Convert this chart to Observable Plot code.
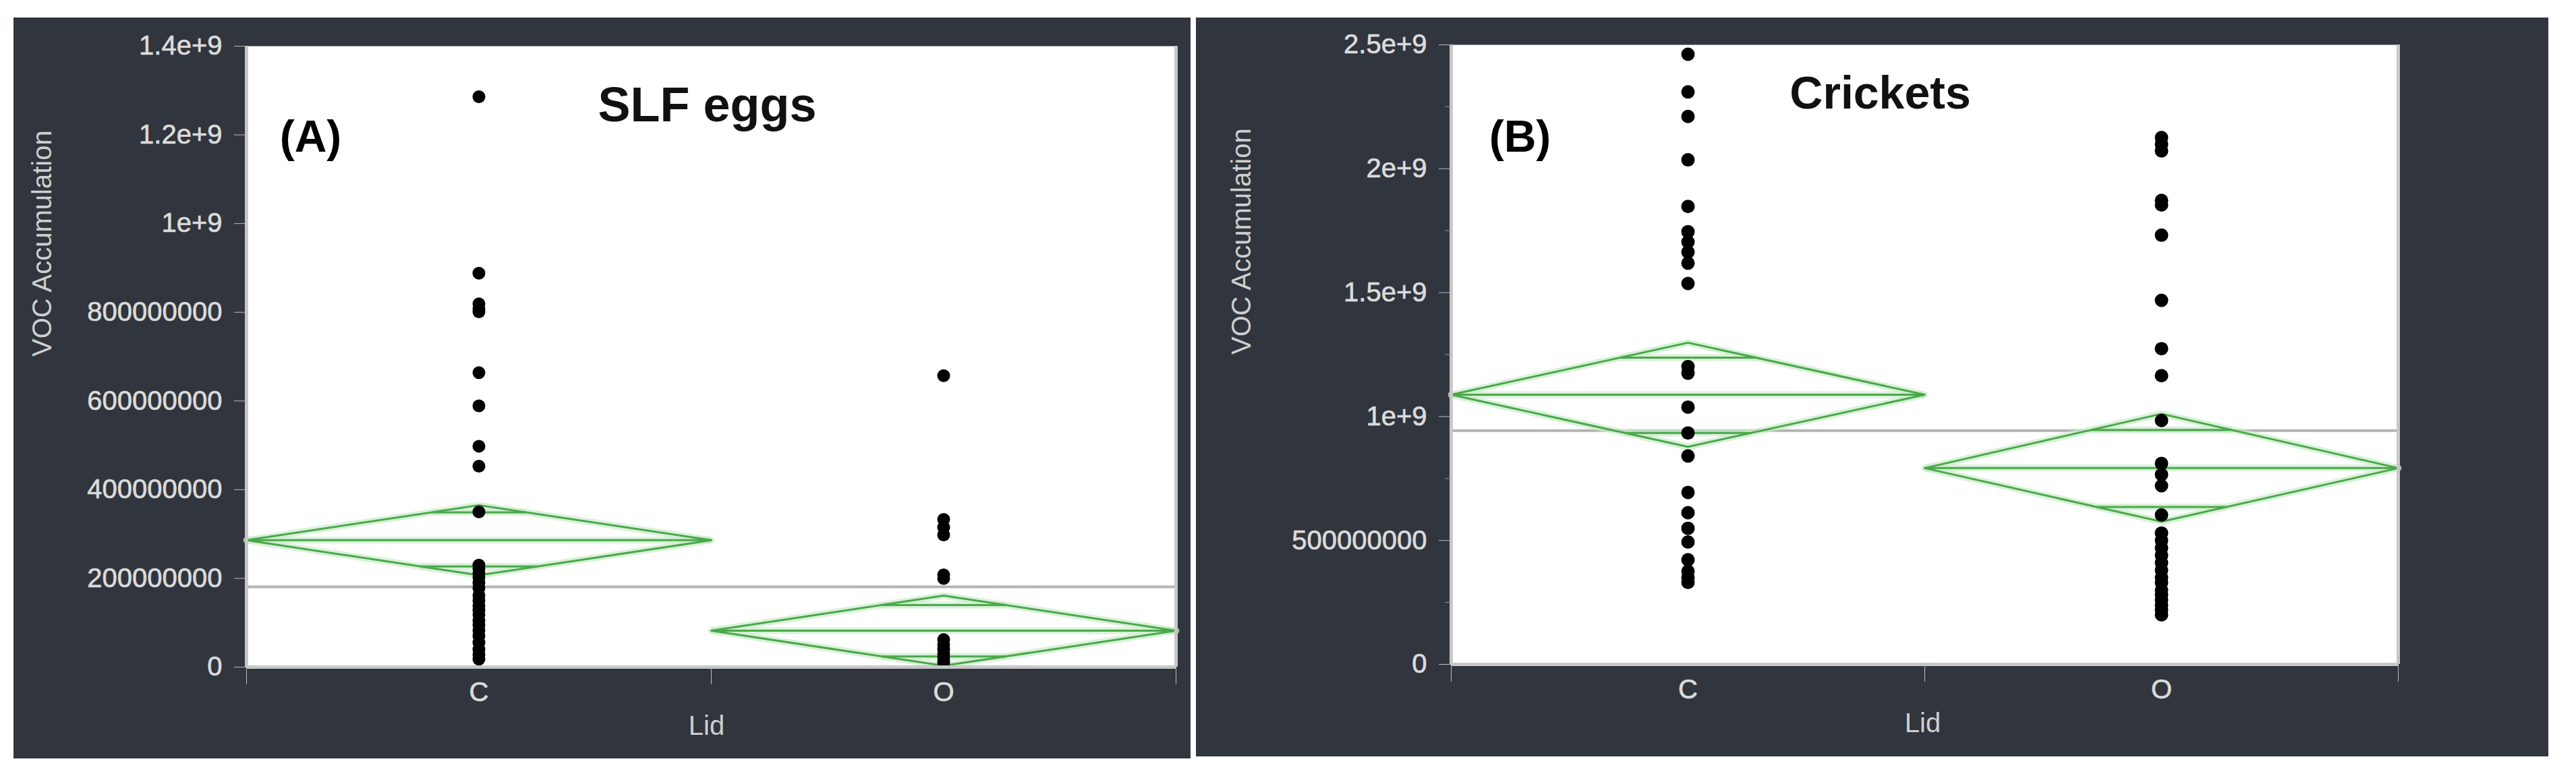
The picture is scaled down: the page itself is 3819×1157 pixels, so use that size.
<!DOCTYPE html>
<html><head><meta charset="utf-8">
<script src="https://cdn.jsdelivr.net/npm/d3@7"></script>
<script src="https://cdn.jsdelivr.net/npm/@observablehq/plot@0.6"></script>
<style>
html,body{margin:0;padding:0;background:#fff;width:3819px;height:1157px;overflow:hidden;font-family:"Liberation Sans",Arial,sans-serif}
.panel{position:absolute;}
g[aria-label$="tick label"] text{stroke:#d8d8d8;stroke-width:0.7px;}
</style></head><body>
<div id="a" class="panel" style="left:20px;top:26px"></div>
<div id="b" class="panel" style="left:1773px;top:26px"></div>
<script>
// ---- shared text ----
const groups = ["C", "O"];
const xAxisLabel = "Lid";
const yAxisLabel = "VOC Accumulation";

// ---- Panel A: SLF eggs ----
const titleA = "SLF eggs";
const tagA = "(A)";
const slfC = [1.286e9, 8.88e8, 8.19e8, 8.08e8, 8.01e8, 6.64e8, 5.89e8, 4.98e8, 4.53e8, 3.50e8,
  2.30e8, 2.22e8, 2.12e8, 2.02e8, 1.90e8, 1.78e8, 1.62e8, 1.50e8, 1.38e8, 1.28e8, 1.18e8,
  1.05e8, 0.95e8, 0.82e8, 0.70e8, 0.55e8, 0.40e8, 0.28e8, 0.18e8];
const slfO = [6.57e8, 3.33e8, 3.15e8, 2.98e8, 2.08e8, 2.00e8, 6.2e7, 5.0e7, 4.0e7, 3.0e7, 2.2e7, 1.5e7, 1.0e7];
const meanA = [2.86e8, 8.2e7];
const ciHighA = [3.65e8, 1.61e8];
const ciLowA = [2.07e8, 3e6];
const overlapHighA = [3.49e8, 1.40e8];
const overlapLowA = [2.27e8, 2.4e7];
const grandMeanA = 1.81e8;
const yDomainA = [0, 1.4e9];
const yTicksA = [0, 2e8, 4e8, 6e8, 8e8, 1e9, 1.2e9, 1.4e9];
const yTickLabelsA = ["0", "200000000", "400000000", "600000000", "800000000", "1e+9", "1.2e+9", "1.4e+9"];
const yMinorTicksA = [];

// ---- Panel B: Crickets ----
const titleB = "Crickets";
const tagB = "(B)";
const cricketC = [2.462e9, 2.310e9, 2.211e9, 2.036e9, 1.848e9, 1.746e9, 1.705e9, 1.664e9, 1.619e9, 1.537e9,
  1.202e9, 1.175e9, 1.038e9, 0.934e9, 0.841e9, 0.694e9, 0.612e9, 0.549e9, 0.494e9, 0.422e9,
  0.376e9, 0.350e9, 0.331e9];
const cricketO = [2.126e9, 2.099e9, 2.072e9, 1.872e9, 1.854e9, 1.732e9, 1.469e9, 1.274e9, 1.165e9,
  0.984e9, 0.811e9, 0.766e9, 0.721e9, 0.603e9, 0.53e9, 0.50e9, 0.47e9, 0.44e9, 0.41e9, 0.38e9,
  0.35e9, 0.33e9, 0.30e9, 0.28e9, 0.26e9, 0.24e9, 0.22e9, 0.20e9];
const meanB = [1.088e9, 0.792e9];
const ciHighB = [1.298e9, 1.011e9];
const ciLowB = [0.878e9, 0.576e9];
const overlapHighB = [1.238e9, 0.946e9];
const overlapLowB = [0.934e9, 0.635e9];
const grandMeanB = 0.943e9;
const yDomainB = [0, 2.5e9];
const yTicksB = [0, 5e8, 1e9, 1.5e9, 2e9, 2.5e9];
const yTickLabelsB = ["0", "500000000", "1e+9", "1.5e+9", "2e+9", "2.5e+9"];
const yMinorTicksB = [2.5e8, 7.5e8, 1.25e9, 1.75e9, 2.25e9];

const GREEN = "#4aa84a";
const GLOW = "#c9ebc9";

function panel(cfg) {
  const n = groups.length;
  const dots = [];
  cfg.values.forEach((arr, i) => arr.forEach(v => dots.push({g: groups[i], x: i + 0.5, y: v})));
  const verts = [];
  const means = [];
  const overl = [];
  groups.forEach((g, i) => {
    const m = cfg.mean[i], hi = cfg.hi[i], lo = cfg.lo[i];
    verts.push({g, x: i, y: m}, {g, x: i + 0.5, y: hi}, {g, x: i + 1, y: m}, {g, x: i + 0.5, y: lo}, {g, x: i, y: m});
    means.push({x1: i, x2: i + 1, y: m});
    const hwHi = 0.5 * (1 - (cfg.oHi[i] - m) / (hi - m));
    const hwLo = 0.5 * (1 - (m - cfg.oLo[i]) / (m - lo));
    overl.push({x1: i + 0.5 - hwHi, x2: i + 0.5 + hwHi, y: cfg.oHi[i]});
    overl.push({x1: i + 0.5 - hwLo, x2: i + 0.5 + hwLo, y: cfg.oLo[i]});
  });
  const lab = (d) => cfg.tickLabels[cfg.ticks.indexOf(d)];
  return Plot.plot({
    width: cfg.width,
    height: cfg.height,
    marginLeft: cfg.ml, marginRight: cfg.mr, marginTop: cfg.mt, marginBottom: cfg.mb,
    style: {background: "#31353d", color: "#d6d6d6", fontFamily: "Liberation Sans, Arial, sans-serif", fontSize: "40px", overflow: "visible"},
    x: {domain: [0, n]},
    y: {domain: cfg.yDomain},
    marks: [
      Plot.frame({fill: "white", stroke: "none"}),
      Plot.ruleY([cfg.grand], {stroke: "#b4b4b4", strokeWidth: 4}),
      Plot.line(verts, {x: "x", y: "y", z: "g", stroke: GLOW, strokeWidth: 10, strokeOpacity: 0.7}),
      Plot.link(means, {x1: "x1", x2: "x2", y1: "y", y2: "y", stroke: GLOW, strokeWidth: 10, strokeOpacity: 0.7}),
      Plot.link(overl, {x1: "x1", x2: "x2", y1: "y", y2: "y", stroke: GLOW, strokeWidth: 10, strokeOpacity: 0.7}),
      Plot.line(verts, {x: "x", y: "y", z: "g", stroke: GREEN, strokeWidth: 3}),
      Plot.link(means, {x1: "x1", x2: "x2", y1: "y", y2: "y", stroke: GREEN, strokeWidth: 3}),
      Plot.link(overl, {x1: "x1", x2: "x2", y1: "y", y2: "y", stroke: GREEN, strokeWidth: 3}),
      Plot.dot(dots, {x: "x", y: "y", r: cfg.r, fill: "black", stroke: "none"}),
      Plot.ruleX([0, n], {stroke: "#c8c8c8", strokeWidth: 5}),
      Plot.ruleY([cfg.yDomain[0]], {stroke: "#c8c8c8", strokeWidth: 5}),
      Plot.axisY(cfg.ticks, {tickFormat: lab, tickSize: 18, tickPadding: 18, fontSize: 40, label: null, stroke: "#bdbdbd", fill: "#dcdcdc"}),
      ...(cfg.minor.length ? [Plot.axisY(cfg.minor, {tickFormat: () => "", tickSize: 9, label: null, stroke: "#9a9a9a"})] : []),
      Plot.axisX(d3.range(n + 1), {tickFormat: () => "", tickSize: 26, label: null, stroke: "#bdbdbd"}),
      Plot.axisX(groups.map((g, i) => i + 0.5), {tickFormat: (d) => groups[Math.floor(d)], tickSize: 0, tickPadding: 22, fontSize: 40, label: null, fill: "#dcdcdc"}),
      Plot.text([yAxisLabel], {frameAnchor: "left", dx: cfg.ylabDx, rotate: -90, fontSize: 40, fill: "#cfcfcf"}),
      Plot.text([xAxisLabel], {frameAnchor: "bottom", dx: cfg.xlabDx, dy: 100, fontSize: 40, fill: "#cfcfcf"}),
      Plot.text([cfg.title], {frameAnchor: "top", dx: cfg.titleDx, dy: cfg.titleDy, fontSize: cfg.titleSize, fontWeight: "bold", fill: "#111"}),
      Plot.text([cfg.tag], {frameAnchor: "top-left", dx: cfg.tagDx, dy: cfg.tagDy, fontSize: 66, fontWeight: "bold", fill: "#000", textAnchor: "middle"})
    ]
  });
}

document.getElementById("a").appendChild(panel({
  width: 1745, height: 1099, ml: 345, mr: 22, mt: 42, mb: 136,
  values: [slfC, slfO], mean: meanA, hi: ciHighA, lo: ciLowA, oHi: overlapHighA, oLo: overlapLowA,
  grand: grandMeanA, yDomain: yDomainA, ticks: yTicksA, tickLabels: yTickLabelsA, minor: yMinorTicksA,
  r: 9.5, ylabDx: -302, xlabDx: -7, title: titleA, titleSize: 72, titleDx: -6, titleDy: 60, tag: tagA, tagDx: 95, tagDy: 110
}));
document.getElementById("b").appendChild(panel({
  width: 2005, height: 1096, ml: 378, mr: 223, mt: 40, mb: 137,
  values: [cricketC, cricketO], mean: meanB, hi: ciHighB, lo: ciLowB, oHi: overlapHighB, oLo: overlapLowB,
  grand: grandMeanB, yDomain: yDomainB, ticks: yTicksB, tickLabels: yTickLabelsB, minor: yMinorTicksB,
  r: 10, ylabDx: -310, xlabDx: -3, title: titleB, titleSize: 68, titleDx: -66, titleDy: 46, tag: tagB, tagDx: 102, tagDy: 112
}));
</script>
</body></html>
